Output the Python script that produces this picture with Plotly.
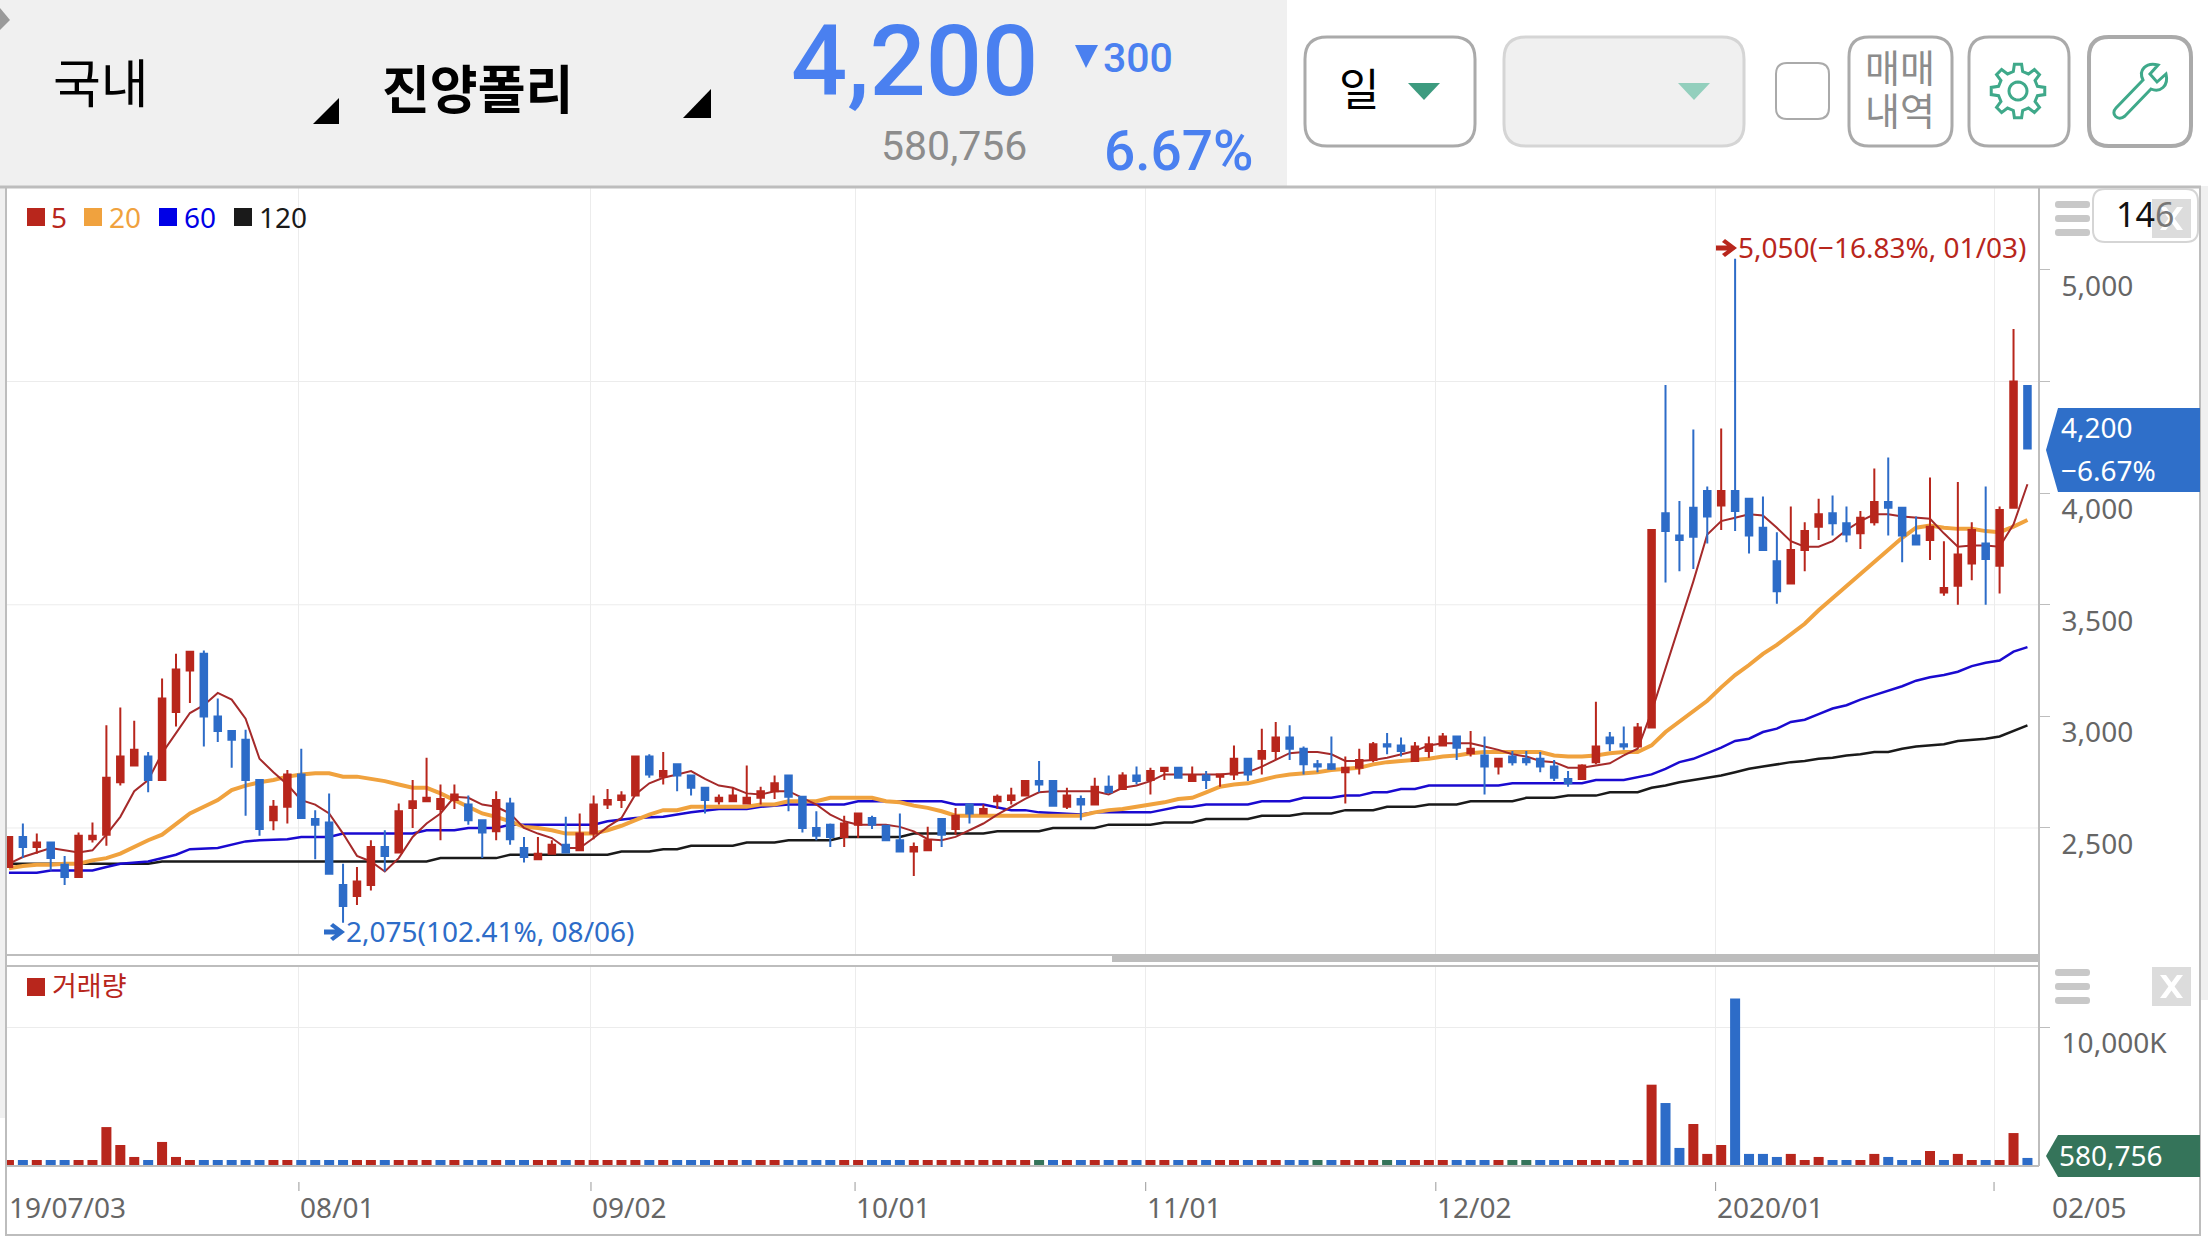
import numpy as np
import plotly.graph_objects as go

W = 2208
H = 1242

OPEN = [2325, 2460, 2415, 2435, 2335, 2280, 2450, 2470, 2705, 2780, 2820, 2715, 3020, 3205, 3280, 3000, 2935, 2895, 2715, 2535,
        2595, 2740, 2540, 2525, 2245, 2195, 2245, 2415, 2390, 2590, 2620, 2585, 2625, 2605, 2535, 2485, 2610, 2410, 2360, 2385,
        2425, 2400, 2475, 2605, 2625, 2645, 2820, 2730, 2785, 2735, 2680, 2620, 2620, 2610, 2635, 2665, 2735, 2640, 2500, 2515,
        2460, 2515, 2545, 2510, 2445, 2395, 2400, 2540, 2495, 2605, 2565, 2620, 2625, 2645, 2710, 2710, 2595, 2630, 2605, 2685,
        2675, 2735, 2715, 2755, 2770, 2710, 2735, 2730, 2740, 2810, 2810, 2845, 2905, 2855, 2785, 2785, 2750, 2770, 2805, 2875,
        2870, 2800, 2845, 2870, 2910, 2835, 2825, 2775, 2820, 2810, 2810, 2775, 2720, 2720, 2795, 2905, 2875, 2865, 2950, 3910,
        3810, 3935, 4010, 3945, 4010, 3975, 3845, 3695, 3595, 3745, 3850, 3910, 3865, 3820, 3870, 3960, 3935, 3810, 3790, 3555,
        3585, 3685, 3775, 3675, 3935, 4480]
HIGH = [2460, 2520, 2475, 2435, 2375, 2480, 2525, 2960, 3040, 2980, 2840, 3170, 3280, 3290, 3295, 3080, 2935, 2940, 2720, 2625,
        2760, 2855, 2580, 2655, 2340, 2325, 2445, 2490, 2610, 2715, 2815, 2695, 2695, 2645, 2535, 2665, 2635, 2460, 2460, 2445,
        2550, 2565, 2645, 2675, 2665, 2825, 2830, 2840, 2785, 2735, 2680, 2650, 2680, 2780, 2685, 2735, 2735, 2640, 2575, 2520,
        2555, 2565, 2555, 2515, 2565, 2435, 2505, 2540, 2590, 2605, 2605, 2650, 2680, 2710, 2800, 2710, 2680, 2645, 2725, 2735,
        2750, 2775, 2770, 2770, 2770, 2775, 2755, 2740, 2870, 2810, 2945, 2975, 2960, 2865, 2805, 2910, 2820, 2855, 2885, 2925,
        2905, 2885, 2910, 2925, 2910, 2935, 2910, 2810, 2845, 2845, 2840, 2805, 2755, 2785, 3065, 2930, 2955, 2970, 3835, 4485,
        3965, 4285, 4030, 4290, 5050, 3975, 3985, 3825, 3940, 3870, 3975, 3990, 3940, 3920, 4110, 4160, 3935, 3895, 4070, 3785,
        4050, 3870, 4030, 3940, 4735, 4485]
LOW = [2325, 2365, 2385, 2310, 2245, 2280, 2435, 2420, 2690, 2780, 2660, 2710, 2955, 3060, 2865, 2885, 2770, 2555, 2465, 2490,
       2520, 2545, 2360, 2295, 2075, 2155, 2220, 2305, 2390, 2500, 2615, 2445, 2585, 2515, 2365, 2445, 2425, 2345, 2360, 2385,
       2390, 2400, 2450, 2585, 2590, 2645, 2725, 2695, 2665, 2645, 2565, 2605, 2620, 2610, 2605, 2630, 2575, 2480, 2445, 2415,
       2415, 2455, 2495, 2445, 2395, 2285, 2400, 2415, 2470, 2520, 2560, 2585, 2605, 2645, 2660, 2600, 2585, 2535, 2605, 2660,
       2675, 2695, 2650, 2715, 2725, 2710, 2675, 2685, 2715, 2710, 2740, 2805, 2805, 2740, 2750, 2760, 2610, 2740, 2795, 2830,
       2820, 2800, 2815, 2865, 2805, 2820, 2650, 2740, 2780, 2780, 2750, 2710, 2685, 2720, 2785, 2845, 2850, 2865, 2950, 3600,
       3650, 3660, 3775, 3835, 3830, 3730, 3745, 3505, 3595, 3650, 3790, 3810, 3780, 3750, 3855, 3810, 3690, 3765, 3700, 3540,
       3500, 3610, 3500, 3550, 3935, 4200]
CLOSE = [2460, 2415, 2435, 2365, 2280, 2465, 2465, 2725, 2820, 2850, 2715, 3080, 3210, 3290, 3000, 2935, 2895, 2715, 2495, 2595,
         2740, 2545, 2515, 2295, 2150, 2260, 2415, 2375, 2575, 2620, 2635, 2630, 2650, 2535, 2480, 2625, 2450, 2370, 2385, 2425,
         2390, 2475, 2605, 2625, 2645, 2820, 2740, 2755, 2735, 2680, 2625, 2635, 2645, 2635, 2665, 2700, 2640, 2500, 2465, 2460,
         2520, 2565, 2515, 2445, 2395, 2415, 2445, 2470, 2555, 2565, 2585, 2640, 2645, 2710, 2695, 2600, 2645, 2605, 2685, 2660,
         2735, 2710, 2755, 2770, 2725, 2735, 2715, 2740, 2810, 2740, 2845, 2905, 2855, 2785, 2775, 2765, 2770, 2805, 2875, 2865,
         2845, 2865, 2875, 2910, 2860, 2855, 2775, 2810, 2795, 2795, 2775, 2725, 2700, 2780, 2865, 2880, 2865, 2950, 3835, 3830,
         3790, 3805, 3895, 4010, 3920, 3810, 3745, 3560, 3745, 3830, 3905, 3865, 3815, 3890, 3960, 3935, 3810, 3770, 3850, 3575,
         3725, 3835, 3705, 3925, 4500, 4200]

MA5 = [2340, 2370, 2390, 2410, 2400, 2390, 2400, 2470, 2550, 2665, 2715, 2835, 2925, 3015, 3050, 3105, 3075, 2990, 2810, 2750,
       2695, 2625, 2605, 2565, 2475, 2375, 2350, 2305, 2365, 2460, 2520, 2565, 2640, 2635, 2605, 2595, 2565, 2500, 2475, 2455,
       2410, 2410, 2455, 2505, 2545, 2650, 2700, 2725, 2740, 2755, 2720, 2690, 2680, 2655, 2650, 2665, 2665, 2635, 2605, 2560,
       2530, 2515, 2515, 2515, 2505, 2485, 2450, 2445, 2460, 2490, 2520, 2560, 2595, 2630, 2660, 2665, 2665, 2665, 2665, 2650,
       2680, 2690, 2710, 2740, 2740, 2740, 2740, 2740, 2745, 2750, 2775, 2805, 2835, 2840, 2840, 2830, 2800, 2800, 2805, 2815,
       2830, 2845, 2870, 2880, 2880, 2880, 2865, 2850, 2830, 2820, 2800, 2795, 2770, 2770, 2780, 2790, 2825, 2855, 3020, 3215,
       3410, 3605, 3815, 3875, 3890, 3905, 3900, 3845, 3785, 3760, 3760, 3785, 3835, 3875, 3905, 3905, 3895, 3890, 3885, 3820,
       3760, 3765, 3765, 3760, 3860, 4040]
MA20 = [2320, 2330, 2335, 2335, 2340, 2340, 2355, 2365, 2385, 2415, 2445, 2470, 2520, 2565, 2595, 2625, 2670, 2690, 2705, 2715,
        2730, 2740, 2745, 2745, 2730, 2730, 2720, 2710, 2695, 2680, 2680, 2655, 2625, 2595, 2565, 2550, 2530, 2505, 2500, 2490,
        2475, 2475, 2475, 2490, 2510, 2535, 2560, 2580, 2580, 2595, 2595, 2595, 2595, 2595, 2605, 2605, 2620, 2620, 2620, 2635,
        2635, 2635, 2635, 2620, 2615, 2600, 2590, 2575, 2555, 2555, 2555, 2555, 2555, 2555, 2555, 2555, 2555, 2555, 2570, 2580,
        2585, 2595, 2605, 2615, 2630, 2635, 2660, 2685, 2695, 2700, 2715, 2730, 2740, 2745, 2750, 2760, 2765, 2770, 2785, 2795,
        2800, 2805, 2810, 2820, 2825, 2835, 2840, 2840, 2840, 2840, 2840, 2825, 2820, 2820, 2825, 2835, 2840, 2840, 2870, 2930,
        2975, 3025, 3070, 3130, 3185, 3230, 3280, 3320, 3365, 3415, 3475, 3530, 3580, 3635, 3695, 3745, 3800, 3845, 3855, 3845,
        3840, 3840, 3830, 3825, 3850, 3880]
MA60_IDX = [0, 2, 3, 6, 7, 8, 10, 12, 13, 15, 17, 18, 20, 21, 23, 24, 29, 30, 32, 33, 35, 36, 42, 43, 45, 47, 48, 49, 51, 53, 54, 56,
            60, 61, 67, 68, 70, 72, 73, 74, 77, 78, 82, 84, 85, 86, 89, 90, 92, 93, 95, 96, 97, 98, 99, 100, 101, 102, 107, 108,
            113, 114, 116, 118, 119, 120, 121, 122, 123, 124, 125, 126, 127, 128, 129, 130, 131, 132, 133, 134, 135, 136, 137,
            138, 139, 140, 141, 142, 143, 144, 145]
MA60 = [2300, 2300, 2310, 2310, 2325, 2340, 2350, 2380, 2405, 2410, 2440, 2445, 2450, 2460, 2460, 2475, 2475, 2490, 2490, 2500, 2500,
        2515, 2515, 2530, 2545, 2550, 2560, 2570, 2585, 2585, 2595, 2605, 2605, 2620, 2620, 2605, 2605, 2580, 2580, 2570, 2560, 2570,
        2570, 2595, 2595, 2605, 2605, 2620, 2620, 2635, 2635, 2645, 2645, 2660, 2660, 2675, 2675, 2690, 2690, 2700, 2700, 2715, 2715,
        2740, 2765, 2795, 2810, 2835, 2860, 2890, 2900, 2930, 2945, 2975, 2985, 3010, 3035, 3050, 3075, 3095, 3115, 3135, 3160, 3175,
        3185, 3200, 3225, 3240, 3250, 3290, 3310]
MA120_IDX = [0, 10, 11, 30, 31, 35, 36, 43, 44, 46, 47, 48, 49, 52, 53, 55, 56, 59, 60, 64, 65, 70, 71, 74, 75, 78, 79, 82, 83, 85, 86,
             89, 90, 92, 93, 95, 96, 98, 99, 101, 102, 104, 105, 108, 109, 111, 112, 114, 115, 117, 118, 119, 120, 121, 122, 123,
             124, 125, 126, 127, 128, 129, 130, 131, 132, 133, 134, 135, 136, 137, 138, 139, 140, 141, 142, 143, 144, 145]
MA120 = [2340, 2340, 2350, 2350, 2365, 2365, 2380, 2380, 2395, 2395, 2405, 2405, 2420, 2420, 2435, 2435, 2445, 2445, 2460, 2460, 2475,
         2475, 2485, 2485, 2500, 2500, 2515, 2515, 2525, 2525, 2540, 2540, 2555, 2555, 2565, 2565, 2580, 2580, 2595, 2595, 2605, 2605,
         2620, 2620, 2635, 2635, 2645, 2645, 2660, 2660, 2680, 2690, 2705, 2715, 2725, 2735, 2750, 2765, 2775, 2785, 2795, 2800, 2810,
         2815, 2825, 2830, 2840, 2840, 2855, 2865, 2870, 2875, 2890, 2895, 2900, 2910, 2935, 2960]

# volume in thousands, most days sit on the same tiny height
VOLUME = [430] * 7 + [2800, 1510, 650, 430, 1730, 650] + [430] * 105 + [
    5850, 4530, 1300, 3020, 870, 1510, 12050, 870, 870, 650, 870, 430, 650, 430, 430, 430, 870, 650, 430, 430, 1080, 430, 870,
    430, 430, 430, 2370, 580]
VOLUME_COLOR = list('rbrbbrrrrr' 'brrrbbbbbr' 'rbbbbrrbrr' 'rbrbbrbbrr' 'brrrrrbrbb' 'brrbrrbbbb' 'rrbbbrrrrr'
                    'rrrrgbrbrb' 'rbrrbrbrrb' 'rrbbgbrrrg' 'brrrbbbrgg' 'bbbrrrbrrb' 'brrrbbbbrr' 'rbbrrbbbrb' 'rrbrrb')
# month starts, in bar numbers (the grid sits a little left of the candle)
TICK_POS = [20.83, 41.81, 60.78, 81.66, 102.5, 122.6, 142.6]
TICK_LABELS = ['08/01', '09/02', '10/01', '11/01', '12/02', '2020/01', '']
PRICE_TICKS = [2500, 3000, 3500, 4000, 4500, 5000]
PRICE_LABELS = ['2,500', '3,000', '3,500', '4,000', '', '5,000']
GRID_PRICES = [2500, 3500, 4500]

RED = '#b8261c'
BLUE = '#2d6cc8'
GREEN = '#35745a'
ORANGE = '#f0a23e'
LINE_GRAY = '#bdbdbd'
GRID = '#ececec'
TEXT_GRAY = '#666666'
HEAD_BLUE = '#4a80f0'
MINT = '#3fa98a'
SANS = 'Noto Sans'
KR = 'Noto Sans CJK KR'


def px(x):
    return x / W


def py(y):
    return 1 - y / H


def pt(x, y):
    return f'{px(x):.5f},{py(y):.5f}'


def poly(points):
    return 'M ' + ' L '.join(pt(x, y) for x, y in points) + ' Z'


def round_rect(x0, y0, x1, y1, r):
    return (f'M {pt(x0 + r, y0)} L {pt(x1 - r, y0)} Q {pt(x1, y0)} {pt(x1, y0 + r)} '
            f'L {pt(x1, y1 - r)} Q {pt(x1, y1)} {pt(x1 - r, y1)} '
            f'L {pt(x0 + r, y1)} Q {pt(x0, y1)} {pt(x0, y1 - r)} '
            f'L {pt(x0, y0 + r)} Q {pt(x0, y0)} {pt(x0 + r, y0)} Z')


def gear(cx, cy, r_out, r_in, teeth=8):
    points = []
    for i in range(teeth):
        a = 2 * np.pi * i / teeth - np.pi / 2
        step = 2 * np.pi / teeth
        for offset, r in [(-0.3, r_in), (-0.17, r_out), (0.17, r_out), (0.3, r_in)]:
            points.append((cx + r * np.cos(a + offset * step), cy + r * np.sin(a + offset * step)))
    return poly(points)


def circle(cx, cy, r):
    points = []
    for a in np.linspace(0, 2 * np.pi, 25)[:-1]:
        points.append((cx + r * np.cos(a), cy + r * np.sin(a)))
    return poly(points)


def arrow(x, y):
    return poly([(x + 9, y - 9), (x + 21, y), (x + 9, y + 9), (x + 6, y + 6), (x + 11, y + 2.5), (x, y + 2.5),
                 (x, y - 2.5), (x + 11, y - 2.5), (x + 6, y - 6)])


shapes = []
texts = []


def add_path(path, fill=None, line=None, width=0, opacity=None):
    s = dict(type='path', xref='paper', yref='paper', path=path, layer='above',
             line=dict(width=width, color=line if line else 'rgba(0,0,0,0)'))
    if fill:
        s['fillcolor'] = fill
    if opacity:
        s['opacity'] = opacity
    shapes.append(s)


def add_rect(x0, y0, x1, y1, fill):
    add_path(poly([(x0, y0), (x1, y0), (x1, y1), (x0, y1)]), fill=fill)


def add_hline(x0, x1, y, width=2, color=LINE_GRAY):
    shapes.append(dict(type='line', xref='paper', yref='paper', x0=px(x0), x1=px(x1), y0=py(y), y1=py(y),
                       line=dict(color=color, width=width)))


def add_vline(x, y0, y1, width=2, color=LINE_GRAY):
    shapes.append(dict(type='line', xref='paper', yref='paper', x0=px(x), x1=px(x), y0=py(y0), y1=py(y1),
                       line=dict(color=color, width=width)))


def add_text(x, y, s, size=28, color=TEXT_GRAY, anchor='left', family=SANS, weight=None):
    font = dict(size=size, color=color, family=family)
    if weight:
        font['weight'] = weight
    texts.append(dict(xref='paper', yref='paper', x=px(x), y=py(y), text=s, showarrow=False,
                      xanchor=anchor, yanchor='middle', font=font, borderpad=0))


# header
add_rect(0, 0, 1287, 186, '#f0f0f0')
add_path(poly([(0, 8), (10, 20), (0, 30)]), fill='#9a9a9a')
add_text(52, 81, '국내', size=52, color='#000000', family=KR)
add_path(poly([(339, 98), (339, 124), (313, 124)]), fill='#000000')
add_text(381, 87, '진양폴리', size=52, color='#000000', family=KR, weight=700)
add_path(poly([(711, 89), (711, 118), (683, 118)]), fill='#000000')
add_text(790, 61, '4,200', size=99, color=HEAD_BLUE, family='Roboto', weight=500)
add_path(poly([(1075, 45), (1098, 45), (1086, 68)]), fill=HEAD_BLUE)
add_text(1102, 58, '300', size=41, color=HEAD_BLUE, family='Roboto', weight=500)
add_text(880, 146, '580,756', size=41, color='#8c8c8c', family='Roboto')
add_text(1103, 151, '6.67%', size=55, color=HEAD_BLUE, family='Roboto', weight=500)

# buttons
add_path(round_rect(1305, 37, 1475, 146, 22), fill='#ffffff', line='#aaaaaa', width=3)
add_text(1359, 87, '일', size=44, color='#000000', anchor='center', family=KR)
add_path(poly([(1408, 83), (1440, 83), (1424, 100)]), fill='#3d9b7f')
add_path(round_rect(1504, 37, 1744, 146, 22), fill='#f0f0f0', line='#d5d5d5', width=3)
add_path(poly([(1678, 83), (1710, 83), (1694, 100)]), fill='#93cfbd')
add_path(round_rect(1776, 63, 1829, 119, 11), fill='#ffffff', line='#aaaaaa', width=2)
add_path(round_rect(1849, 37, 1952, 146, 20), fill='#ffffff', line='#aaaaaa', width=3)
add_text(1900, 65, '매매', size=38, color='#8c8c8c', anchor='center', family=KR)
add_text(1900, 109, '내역', size=38, color='#8c8c8c', anchor='center', family=KR)
add_path(round_rect(1969, 37, 2069, 146, 20), fill='#ffffff', line='#aaaaaa', width=3)
add_path(gear(2018, 91, 27, 20), line=MINT, width=3)
add_path(circle(2018, 91, 9), line=MINT, width=3)
add_path(round_rect(2089, 37, 2191, 146, 20), fill='#ffffff', line='#aaaaaa', width=4)
add_path(f'M {pt(2116, 108)} L {pt(2143, 80)} C {pt(2138, 70)} {pt(2146, 62)} {pt(2158, 65)} L {pt(2150, 74)} '
         f'L {pt(2157, 82)} L {pt(2166, 74)} C {pt(2169, 86)} {pt(2160, 93)} {pt(2151, 89)} L {pt(2125, 116)} '
         f'C {pt(2118, 122)} {pt(2110, 114)} {pt(2116, 108)} Z', line=MINT, width=3)

# panel frame
add_rect(0, 186, 6, 1118, '#f0f0f0')
add_rect(2201, 186, 2208, 1000, '#f0f0f0')
add_hline(0, 2201, 187, width=3)
add_vline(6, 187, 1236, width=2)
add_vline(2200, 187, 1236, width=2)
add_hline(6, 2039, 955, width=2)
add_hline(1112, 2039, 959, width=6)
add_hline(6, 2039, 966, width=2)
add_hline(6, 2039, 1166, width=2)
add_hline(6, 2200, 1235, width=2)
add_vline(2039, 187, 1166, width=2)

# side icons
for top in [201, 215, 229]:
    add_path(round_rect(2055, top, 2090, top + 7, 3), fill='#c8c8c8')
for top in [969, 983, 997]:
    add_path(round_rect(2055, top, 2090, top + 7, 3), fill='#c8c8c8')
add_path(round_rect(2093, 189, 2198, 242, 12), fill='#ffffff', line='#d5d5d5', width=2)
for y0 in [199, 967]:
    add_rect(2152, y0, 2191, y0 + 39, 'rgba(205,205,205,0.7)')
    add_path(poly([(2160, y0 + 8), (2166, y0 + 8), (2183, y0 + 31), (2177, y0 + 31)]), fill='#ffffff')
    add_path(poly([(2183, y0 + 8), (2177, y0 + 8), (2160, y0 + 31), (2166, y0 + 31)]), fill='#ffffff')
add_text(2145, 214, "14<span style='color:#777777'>6</span>", size=34, color='#111111', anchor='center')

# legend boxes
legend_items = [('5', RED, 27, 50), ('20', ORANGE, 84, 108), ('60', '#0000e6', 159, 183), ('120', '#1a1a1a', 234, 258)]
for label, color, x_box, x_text in legend_items:
    add_rect(x_box, 208, x_box + 18, 226, color)
    add_text(x_text, 217, label, color=color)
add_rect(27, 978, 45, 996, RED)
add_text(51, 984, '거래량', size=27, color=RED, family=KR)

# high / low flags
add_path(arrow(1716, 248), fill=RED)
add_text(1737, 247, '5,050(−16.83%, 01/03)', size=28, color=RED)
add_path(arrow(324, 932), fill=BLUE)
add_text(345, 931, '2,075(102.41%, 08/06)', size=28, color=BLUE)

# price and volume tags
add_path(poly([(2046, 450), (2058, 408), (2200, 408), (2200, 492), (2058, 492)]), fill='#2f6fc9')
add_text(2060, 427, '4,200', color='#ffffff')
add_text(2060, 470, '−6.67%', color='#ffffff')
add_path(poly([(2046, 1156), (2058, 1135), (2200, 1135), (2200, 1177), (2058, 1177)]), fill=GREEN)
add_text(2058, 1155, '580,756', color='#ffffff')

# x labels under the volume panel, left aligned next to their tick
add_text(8, 1207, '19/07/03')
add_text(2051, 1207, '02/05')
for x, label in zip(TICK_POS, TICK_LABELS):
    shapes.append(dict(type='line', xref='x2', yref='paper', x0=x, x1=x, y0=py(1182), y1=py(1191),
                       line=dict(color='#999999', width=1)))
    if label:
        texts.append(dict(xref='x2', yref='paper', x=x, y=py(1207), text=label, showarrow=False, xanchor='left',
                          yanchor='middle', xshift=-1, font=dict(size=28, color=TEXT_GRAY, family=SANS)))

# only every other price level gets a grid line
for price in GRID_PRICES:
    shapes.append(dict(type='line', xref='paper', yref='y', x0=px(7), x1=px(2039), y0=price, y1=price, layer='below',
                       line=dict(color=GRID, width=1)))

idx = list(range(len(CLOSE)))
fig = go.Figure()

fig.add_trace(go.Scatter(x=MA120_IDX, y=MA120, mode='lines', line=dict(color='#1a1a1a', width=2.5), hoverinfo='skip'))
fig.add_trace(go.Scatter(x=MA60_IDX, y=MA60, mode='lines', line=dict(color='#1a0ad0', width=2.5), hoverinfo='skip'))
fig.add_trace(go.Scatter(x=idx, y=MA20, mode='lines', line=dict(color=ORANGE, width=4), hoverinfo='skip'))
fig.add_trace(go.Scatter(x=idx, y=MA5, mode='lines', line=dict(color='#a52a2a', width=2), hoverinfo='skip'))

# separate overlaid axes so the candles paint over the lines
fig.add_trace(go.Candlestick(x=idx, open=OPEN, high=HIGH, low=LOW, close=CLOSE, xaxis='x3', yaxis='y3',
                             whiskerwidth=0,
                             increasing=dict(line=dict(color=RED, width=2), fillcolor=RED),
                             decreasing=dict(line=dict(color=BLUE, width=2), fillcolor=BLUE)))

colors = {'r': RED, 'b': BLUE, 'g': GREEN}
fig.add_trace(go.Bar(x=idx, y=VOLUME, width=0.72, xaxis='x2', yaxis='y2', marker_line_width=0,
                     marker_color=[colors[c] for c in VOLUME_COLOR], hoverinfo='skip'))

x_range = [-0.14, 145.83]
y_range = [1931, 5376]
x_domain = [px(7), px(2039)]
common_x = dict(range=x_range, domain=x_domain, tickvals=TICK_POS, showgrid=True, gridcolor=GRID, gridwidth=1,
                showticklabels=False, ticks='', zeroline=False, showline=False, rangeslider=dict(visible=False))
common_y = dict(side='right', zeroline=False, ticks='outside', ticklen=10, tickcolor=LINE_GRAY, tickwidth=1,
                ticklabelstandoff=6, ticklabelshift=16, tickfont=dict(size=28, color=TEXT_GRAY, family=SANS))

fig.update_layout(
    width=W, height=H, margin=dict(l=0, r=0, t=0, b=0), autosize=False,
    paper_bgcolor='#ffffff', plot_bgcolor='#ffffff', showlegend=False, boxgap=0.33,
    xaxis=dict(anchor='y', **common_x),
    xaxis2=dict(anchor='y2', **common_x),
    xaxis3=dict(anchor='y3', overlaying='x', range=x_range, domain=x_domain, visible=False,
                rangeslider=dict(visible=False)),
    yaxis=dict(domain=[py(955), py(186)], range=y_range, anchor='x', tickvals=PRICE_TICKS, ticktext=PRICE_LABELS,
               showgrid=False, **common_y),
    yaxis2=dict(domain=[py(1166), py(966)], range=[0, 14388], anchor='x2', tickvals=[10000], ticktext=['10,000K'],
                showgrid=True, gridcolor=GRID, gridwidth=1, **common_y),
    yaxis3=dict(anchor='x3', overlaying='y', range=y_range, visible=False),
    shapes=shapes, annotations=texts,
)

fig.write_html("out.html", config=dict(displayModeBar=False), post_script="document.body.style.margin='0';")
